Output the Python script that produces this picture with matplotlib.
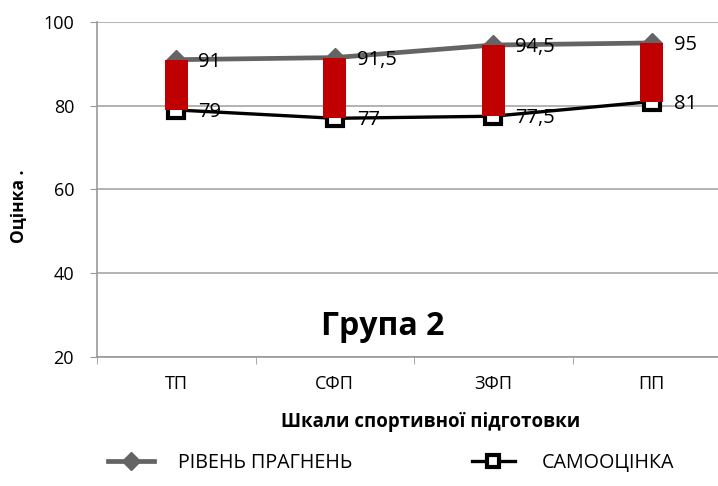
import matplotlib.pyplot as plt
import numpy as np

categories = ['ТП', 'СФП', 'ЗФП', 'ПП']
rivdata = [91, 91.5, 94.5, 95]
samodata = [79, 77, 77.5, 81]
riv_labels = ['91', '91,5', '94,5', '95']
samo_labels = ['79', '77', '77,5', '81']
yticks = [20, 40, 60, 80, 100]

plt.rcParams['font.family'] = ['Open Sans', 'DejaVu Sans']

W, H = 718, 486
fig = plt.figure(figsize=(W / 100, H / 100), dpi=100)
# plot area runs a bit past the right edge, like the original
ax = fig.add_axes([97 / W, 1 - 357 / H, (731 - 97) / W, (357 - 22) / H])

x = np.arange(len(categories))
hi = np.array(rivdata)
lo = np.array(samodata)

l1, = ax.plot(x, hi, color='#646464', lw=3.4, marker='D', ms=10, mfc='#646464', mec='#646464', zorder=3)
l2, = ax.plot(x, lo, color='black', lw=2.4, marker='s', ms=12, mfc='white', mec='black', mew=3, zorder=3)
# up/down bars between the two series
ax.bar(x, hi - lo, bottom=lo, width=0.146, color='#C00000', zorder=4)

for i in range(len(x)):
    ax.text(x[i] + 0.14, hi[i] - 0.5, riv_labels[i], fontsize=14.5, va='center', ha='left', zorder=5)
    ax.text(x[i] + 0.14, lo[i] - 0.5, samo_labels[i], fontsize=14.5, va='center', ha='left', zorder=5)

ax.set_xlim(-0.5, 3.5)
ax.set_ylim(20, 100)
ax.set_yticks(yticks)
ax.set_xticks(x)
ax.set_xticklabels(categories, fontsize=13)
ax.set_xticks(np.arange(-0.5, 4, 1), minor=True)
ax.tick_params(axis='x', which='major', length=0, pad=13)
ax.tick_params(axis='x', which='minor', length=5, color='#999999')
ax.tick_params(axis='y', length=5, color='#999999', labelsize=13, pad=11.5)
ax.grid(axis='y', color='#A6A6A6', lw=1.2)
ax.set_axisbelow(True)
for s in ['top', 'right']:
    ax.spines[s].set_visible(False)
ax.spines['left'].set_color('#999999')
ax.spines['bottom'].set_color('#999999')
ax.spines['left'].set_linewidth(1.2)
ax.spines['bottom'].set_linewidth(1.2)

ax.set_ylabel('Оцінка .', fontsize=12.5, fontweight='bold')
ax.yaxis.set_label_coords((28 - 97) / 634, (357 - 206) / 335)
ax.set_xlabel('Шкали спортивної підготовки', fontsize=13.4, fontweight='bold')
ax.xaxis.set_label_coords((431 - 97) / 634, (357 - 412) / 335)
ax.text(1.3, 25.3, 'Група 2', fontsize=23, fontweight='bold', ha='center', va='baseline')

ly = 1 - 463 / H
leg1 = fig.legend([l1], ['РІВЕНЬ ПРАГНЕНЬ'], loc='center left', bbox_to_anchor=(108 / W, ly),
                  frameon=False, fontsize=14.2, borderpad=0, borderaxespad=0,
                  handlelength=2.33, handletextpad=1.22)
leg2 = fig.legend([l2], ['САМООЦІНКА'], loc='center left', bbox_to_anchor=(472 / W, ly),
                  frameon=False, fontsize=14.2, borderpad=0, borderaxespad=0,
                  handlelength=2.18, handletextpad=1.37)
for lg in (leg1, leg2):
    lg.legend_handles[0].set_markersize(9)

fig.savefig('out.png', dpi=100)
